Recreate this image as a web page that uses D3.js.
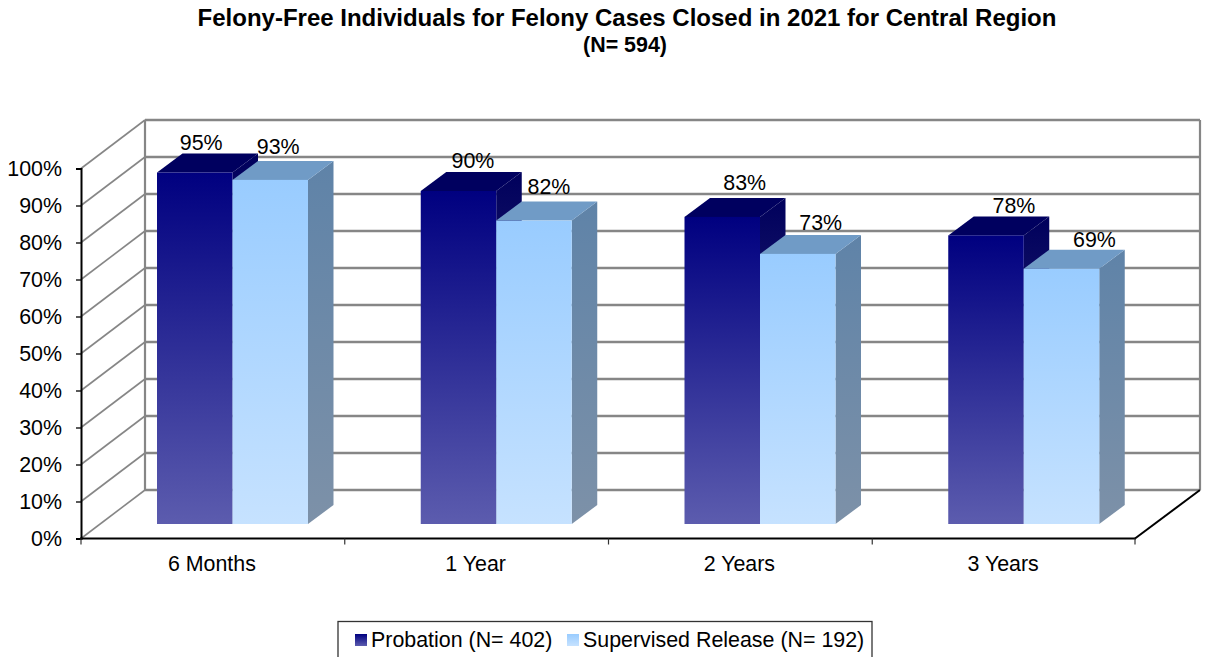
<!DOCTYPE html>
<html><head><meta charset="utf-8">
<script src="https://cdn.jsdelivr.net/npm/d3@7"></script>
<style>html,body{margin:0;padding:0;background:#fff;overflow:hidden}svg{display:block}text{font-family:"Liberation Sans",Arial,sans-serif;fill:#000}</style>
</head><body><svg id="c" width="1206" height="657"></svg>
<script>
const categories = ["6 Months","1 Year","2 Years","3 Years"];
const seriesNames = ["Probation (N= 402)","Supervised Release (N= 192)"];
const probation = [95,90,83,78];
const supervised = [93,82,73,69];
const yTicks = [0,10,20,30,40,50,60,70,80,90,100];
const titleText = "Felony-Free Individuals for Felony Cases Closed in 2021 for Central Region";
const subtitleText = "(N= 594)";

const svg = d3.select("#c");
const x = d3.scaleBand().domain(categories).range([81,1136]).paddingInner(0).paddingOuter(0);
const y = d3.scaleLinear().domain([0,100]).range([538.5,168.5]);
const wall = {dx:64, dy:-48.5};
const bar = {dx:25.5, dy:-19, inset:76, w:75.5, lift:14.5};
const GRID="#868686";
const FS=21.4;
// hand placement of the value labels, relative to each bar
const labelShift = [[6.5,14.5,22.5,28],[8,15,23,33]];
const labelGap = [[4,4,7.5,3],[6.5,8,5,3]];

const defs = svg.append("defs");
function grad(id,top,bottom){
  const g=defs.append("linearGradient").attr("id",id).attr("x1",0).attr("x2",0).attr("y1",0).attr("y2",1);
  g.append("stop").attr("offset",0).attr("stop-color",top);
  g.append("stop").attr("offset",1).attr("stop-color",bottom);
}
grad("blueF","#000080","#5c5cae");
grad("blueS","#00005c","#434382");
grad("lightF","#99ccff","#c6e2ff");
grad("lightS","#5f83a8","#7d91a8");

const grid = svg.append("g").attr("fill","none").attr("stroke",GRID);
yTicks.forEach(t=>{
  grid.append("line").attr("x1",x.range()[0]).attr("y1",y(t)).attr("x2",x.range()[0]+wall.dx).attr("y2",y(t)+wall.dy).attr("stroke-width",1.6);
  grid.append("line").attr("x1",x.range()[0]+wall.dx).attr("y1",y(t)+wall.dy).attr("x2",x.range()[1]+wall.dx).attr("y2",y(t)+wall.dy).attr("stroke-width",2.4);
});
grid.append("line").attr("x1",x.range()[0]+wall.dx).attr("x2",x.range()[0]+wall.dx).attr("y1",y(0)+wall.dy).attr("y2",y(100)+wall.dy).attr("stroke-width",2.2);
grid.append("line").attr("x1",x.range()[1]+wall.dx).attr("x2",x.range()[1]+wall.dx).attr("y1",y(0)+wall.dy).attr("y2",y(100)+wall.dy).attr("stroke-width",2.2);

svg.append("line").attr("x1",x.range()[1]-1).attr("y1",y(0)).attr("x2",x.range()[1]+wall.dx).attr("y2",y(0)+wall.dy).attr("stroke","#000").attr("stroke-width",2);

const baseY = y(0)-bar.lift;
const barTop = v => y(v)-bar.lift;
const series = [
 {vals:probation,off:0,f:"url(#blueF)",s:"url(#blueS)",t:"#00005f"},
 {vals:supervised,off:bar.w,f:"url(#lightF)",s:"url(#lightS)",t:"#709bc6"}
];
const pts = a=>a.map(p=>p.join(",")).join(" ");
categories.forEach((c,i)=>{
  series.forEach(s=>{
    const x0=x(c)+bar.inset+s.off, x1=x0+bar.w, v=s.vals[i], t=barTop(v);
    svg.append("polygon").attr("points",pts([[x1,t],[x1+bar.dx,t+bar.dy],[x1+bar.dx,baseY+bar.dy],[x1,baseY]])).attr("fill",s.s);
    svg.append("polygon").attr("points",pts([[x0,t],[x0+bar.dx,t+bar.dy],[x1+bar.dx,t+bar.dy],[x1,t]])).attr("fill",s.t);
    svg.append("rect").attr("x",x0).attr("y",t).attr("width",bar.w).attr("height",baseY-t).attr("fill",s.f);
  });
});

categories.forEach((c,i)=>{
  series.forEach((s,k)=>{
    const x0=x(c)+bar.inset+s.off, v=s.vals[i];
    svg.append("text").attr("x",x0+bar.w/2+labelShift[k][i]).attr("y",barTop(v)+bar.dy-labelGap[k][i])
      .attr("text-anchor","middle").attr("font-size",FS).text(v+"%");
  });
});

const yAxis = d3.axisLeft(y).tickValues(yTicks).tickSize(5).tickFormat(d=>d+"%");
const gy = svg.append("g").attr("transform",`translate(${x.range()[0]},0)`).call(yAxis);
gy.selectAll("text").attr("font-size",FS).attr("x",-19).attr("dy","0.34em").attr("font-family","Liberation Sans");
gy.selectAll("line").attr("stroke","#000").attr("stroke-width",1.3);
gy.select(".domain").attr("stroke","#000").attr("stroke-width",2);

const gx = svg.append("g").attr("transform",`translate(0,${y(0)})`);
gx.append("line").attr("x1",x.range()[0]-1).attr("x2",x.range()[1]).attr("stroke","#000").attr("stroke-width",2.2);
[...categories.map(c=>x(c)),x.range()[1]-1].forEach(p=>gx.append("line").attr("x1",p).attr("x2",p).attr("y1",0).attr("y2",6).attr("stroke","#333").attr("stroke-width",1.2));
categories.forEach(c=>gx.append("text").attr("x",x(c)+x.bandwidth()/2-1).attr("y",32).attr("text-anchor","middle").attr("font-size",FS).text(c));

svg.append("text").attr("x",627).attr("y",26).attr("text-anchor","middle").attr("font-size",24).attr("font-weight","bold").text(titleText);
svg.append("text").attr("x",625).attr("y",52).attr("text-anchor","middle").attr("font-size",21.4).attr("font-weight","bold").text(subtitleText);

const lg = svg.append("g");
lg.append("rect").attr("x",338).attr("y",621.5).attr("width",534).attr("height",50).attr("fill","#fff").attr("stroke","#333").attr("stroke-width",1.3);
const lx=[355,567], tx=[371,583], lf=["url(#blueF)","url(#lightF)"];
seriesNames.forEach((n,i)=>{
  lg.append("rect").attr("x",lx[i]).attr("y",634).attr("width",12).attr("height",12).attr("fill",lf[i]);
  lg.append("text").attr("x",tx[i]).attr("y",647).attr("font-size",FS).text(n);
});
</script></body></html>
